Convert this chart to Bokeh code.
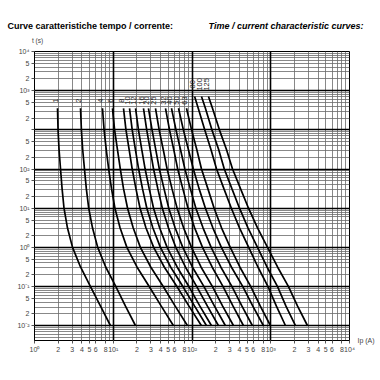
import math
from bokeh.plotting import figure
from bokeh.models import FixedTicker, Grid, Label
from bokeh.core.properties import value
from bokeh.embed import file_html
from bokeh.resources import INLINE

# ---- data ----
ratings = ["1", "2", "4", "6", "8", "10", "12", "16", "20", "25", "32", "40", "50", "63", "80", "100", "125"]

# time levels (s) at which currents were read
t_small = [3550, 1000, 316, 100, 31.6, 10, 3.16, 1, 0.316, 0.1, 0.0316, 0.01]
t_large = [7080, 3550, 1000, 316, 100, 31.6, 10, 3.16, 1, 0.316, 0.1, 0.0316, 0.01]

# prospective currents Ip (A) per fuse rating
i_1 = [1.96, 1.99, 2.05, 2.14, 2.24, 2.37, 2.62, 3.04, 3.84, 5.14, 6.89, 9.23]
i_2 = [3.84, 3.94, 4.09, 4.31, 4.55, 4.88, 5.45, 6.35, 8.02, 10.8, 14.3, 19.2]
i_4 = [7.30, 7.65, 8.14, 8.75, 9.50, 10.5, 12.2, 14.9, 20.0, 28.6, 40.7, 58.2]
i_6 = [9.78, 10.4, 11.3, 12.3, 13.5, 15.2, 17.9, 22.1, 29.9, 43.1, 61.2, 87.7]
i_8 = [13.5, 14.5, 15.9, 17.4, 19.4, 21.9, 26.0, 32.6, 44.4, 64.3, 91.6, 132]
i_10 = [16.1, 17.4, 19.1, 21.0, 23.5, 26.7, 31.8, 39.7, 53.5, 76.6, 108, 153]
i_12 = [19.2, 20.9, 23.0, 25.4, 28.6, 32.5, 38.8, 48.3, 64.7, 91.3, 126, 177]
i_16 = [24.2, 26.6, 29.4, 32.5, 36.8, 42.0, 50.2, 62.3, 82.4, 115, 157, 217]
i_20 = [28.0, 31.1, 34.6, 38.5, 44.1, 50.7, 61.0, 76.4, 101, 142, 193, 266]
i_25 = [34.4, 38.3, 43.1, 48.3, 55.7, 64.7, 78.2, 98.5, 130, 182, 245, 337]
i_32 = [46.1, 51.8, 58.6, 65.8, 76.4, 89.0, 108, 136, 180, 248, 332, 451]
i_40 = [54.9, 62.6, 71.4, 81.2, 95.1, 112, 138, 175, 232, 322, 431, 586]
i_50 = [67.4, 77.7, 90.0, 104, 123, 148, 184, 236, 316, 442, 592, 809]
i_63 = [85.1, 98.8, 115, 132, 159, 191, 237, 306, 405, 558, 737, 993]
i_80 = [108, 120, 145, 174, 205, 254, 316, 401, 525, 687, 923, 1180, 1540]
i_100 = [132, 148, 179, 218, 257, 321, 401, 514, 679, 896, 1220, 1560, 2060]
i_125 = [162, 182, 223, 274, 327, 413, 522, 679, 910, 1220, 1680, 2190, 2930]

curves = [i_1, i_2, i_4, i_6, i_8, i_10, i_12, i_16, i_20, i_25, i_32, i_40, i_50, i_63, i_80, i_100, i_125]

# axis ticks / labels
x_decades = [1, 10, 100, 1000, 10000]
x_decade_labels = ["10\u2070", "10\u00b9", "10\u00b2", "10\u00b3", "10\u2074"]
x_minor_labelled = [2, 3, 4, 5, 6, 8]
y_decades = [0.01, 0.1, 1, 10, 100, 1000, 10000, 100000]
y_decade_labels = ["10\u207b\u00b2", "10\u207b\u00b9", "10\u2070", "10\u00b9", "10\u00b2", "", "10\u00b3", "10\u2074"]
y_minor_labelled = [2, 5]

FONT = "Liberation Sans"

p = figure(
    x_axis_type="log", y_axis_type="log",
    x_range=(1, 10000), y_range=(0.0042, 100000),
    frame_width=315, frame_height=289,
    min_border_left=34, min_border_right=28, min_border_top=51, min_border_bottom=30,
    output_backend="svg", toolbar_location=None,
)
p.title.text = ""
p.title.visible = False
p.background_fill_color = "white"
p.border_fill_color = "white"
p.outline_line_color = "black"
p.outline_line_width = 1

# grid: every unit in each decade (thin) + decades (thick)
x_grid_vals = [k * 10 ** n for n in range(0, 4) for k in range(2, 10)]
y_grid_vals = [round(k * 10.0 ** n, 6) for n in range(-3, 5) for k in range(2, 10)]
y_grid_vals = [v for v in y_grid_vals if 0.0042 < v < 100000]

p.xgrid.ticker = FixedTicker(ticks=x_grid_vals)
p.ygrid.ticker = FixedTicker(ticks=y_grid_vals)
for g in (p.xgrid[0], p.ygrid[0]):
    g.grid_line_color = "#6a6a6a"
    g.grid_line_width = 0.8

p.add_layout(Grid(dimension=0, ticker=FixedTicker(ticks=x_decades),
                  grid_line_color="black", grid_line_width=1.6))
p.add_layout(Grid(dimension=1, ticker=FixedTicker(ticks=y_decades),
                  grid_line_color="black", grid_line_width=1.6))

# axes
x_tick_vals, x_over = [], {}
for n, d in enumerate(x_decades):
    x_tick_vals.append(d)
    x_over[d] = x_decade_labels[n]
    if d < 10000:
        for k in x_minor_labelled:
            x_tick_vals.append(k * d)
            x_over[k * d] = str(k)
y_tick_vals, y_over = [], {}
for n, d in enumerate(y_decades):
    y_tick_vals.append(d)
    y_over[d] = y_decade_labels[n]
    if d < 100000:
        for k in y_minor_labelled:
            v = round(k * d, 6)
            y_tick_vals.append(v)
            y_over[v] = str(k)

p.xaxis.ticker = FixedTicker(ticks=x_tick_vals)
p.yaxis.ticker = FixedTicker(ticks=y_tick_vals)
p.xaxis.major_label_overrides = x_over
p.yaxis.major_label_overrides = y_over
for ax in (p.xaxis[0], p.yaxis[0]):
    ax.axis_line_color = "black"
    ax.axis_line_width = 1
    ax.major_tick_in = 0
    ax.major_tick_out = 3
    ax.major_tick_line_color = "#555555"
    ax.minor_tick_line_color = None
    ax.major_label_text_font = FONT
    ax.major_label_text_font_size = "7px"
    ax.major_label_text_color = "#444444"
    ax.major_label_standoff = 2

# curves
for vals in curves:
    ts = t_small if len(vals) == len(t_small) else t_large
    p.line(vals, ts, line_color="black", line_width=1.7)

# rating labels near curve tops
lab_x = [c[0] for c in curves]
lab_y = [5600 if len(c) == len(t_small) else 14500 for c in curves]
p.text(x=lab_x, y=lab_y, text=ratings, angle=math.pi / 2,
       text_font=value(FONT), text_font_size="7.5px", text_color="#222222",
       text_align="center", text_baseline="middle", x_offset=-2)

# titles and axis captions (placed in side panels so they are not clipped)
p.add_layout(Label(x=1, y=100000, x_offset=-27, y_offset=26,
                   text="Curve caratteristiche tempo / corrente:",
                   text_font=FONT, text_font_size="9px", text_font_style="bold",
                   text_baseline="middle", text_align="left", text_color="black"), "above")
p.add_layout(Label(x=10000, y=100000, x_offset=14, y_offset=26,
                   text="Time / current characteristic curves:",
                   text_font=FONT, text_font_size="9px", text_font_style="bold italic",
                   text_baseline="middle", text_align="right", text_color="black"), "above")
p.add_layout(Label(x=1, y=100000, x_offset=3, y_offset=11,
                   text="t (s)", text_font=FONT, text_font_size="6.5px",
                   text_baseline="middle", text_align="center", text_color="#444444"), "above")
p.add_layout(Label(x=10000, y=0.0042, x_offset=8, y_offset=0,
                   text="Ip (A)", text_font=FONT, text_font_size="7px",
                   text_baseline="middle", text_align="left", text_color="#444444"), "right")

open("out.html", "w").write(file_html(p, INLINE))
